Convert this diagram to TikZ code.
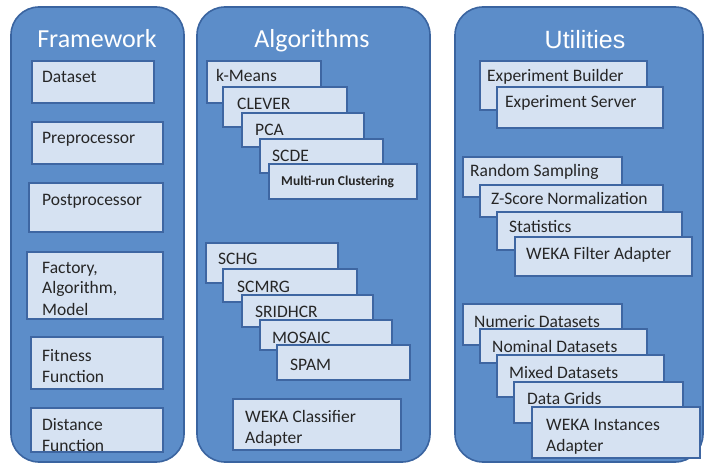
\documentclass[tikz,border=0pt]{standalone}
\usepackage{fontspec}
\setmainfont{Carlito}
\newfontfamily\arialf{Liberation Sans}
\definecolor{outerfill}{RGB}{92,141,201}
\definecolor{outerdraw}{RGB}{58,100,160}
\definecolor{innerfill}{RGB}{214,226,242}
\definecolor{innerdraw}{RGB}{62,102,162}
\definecolor{textc}{RGB}{38,38,38}
\tikzset{
  obox/.style={draw=outerdraw, fill=outerfill, line width=1.6pt, rounded corners=28pt, inner sep=0pt},
  ibox/.style={draw=innerdraw, fill=innerfill, line width=1.4pt, inner sep=0pt},
  itext/.style={anchor=base west, inner sep=0pt, align=left, text=textc, font=\fontsize{17.5}{21}\selectfont},
  ttl/.style={anchor=base, inner sep=0pt, text=white, font=\fontsize{26}{30}\selectfont},
}
% #7 is the baseline of the LAST text line
\newcommand\ibox[8]{%
  \node[ibox, minimum width={(#4-#2)*1pt}, minimum height={(#5-#3)*1pt}] (#1) at ({(#2+#4)/2},{(#3+#5)/2}) {};
  \node[itext] (#1-t) at (#6,#7) {#8};
}
\newcommand\obox[5]{%
  \node[obox, minimum width={(#4-#2)*1pt}, minimum height={(#5-#3)*1pt}] (#1) at ({(#2+#4)/2},{(#3+#5)/2}) {};
}
\begin{document}
\begin{tikzpicture}[x=1pt,y=-1pt]
\useasboundingbox[fill=white] (0,0) rectangle (707,465);
% outer columns
\obox{fw}{11}{7}{184}{462}
\obox{alg}{197}{7}{430}{462}
\obox{util}{455}{7}{703}{462}
\node[ttl] (fwT) at (97,48) {Framework};
\node[ttl] (algT) at (312,48) {Algorithms};
\node[ttl, font=\arialf\fontsize{25}{30}\selectfont] (utilT) at (585,49) {Utilities};
% Framework
\ibox{fDataset}{32}{61}{154}{103}{42}{83}{Dataset}
\ibox{fPre}{32}{122}{163}{164}{42}{144}{Preprocessor}
\ibox{fPost}{29}{183}{163}{232}{42}{206}{Postprocessor}
\ibox{fFact}{27}{252}{163}{319}{42}{315}{Factory,\\Algorithm,\\Model}
\ibox{fFit}{31}{337}{163}{389}{42}{382}{Fitness\\Function}
\ibox{fDist}{31}{408}{163}{452}{42}{451}{Distance\\Function}
% Algorithms
\ibox{aKM}{207}{61}{321}{103}{216}{82}{k-Means}
\ibox{aCL}{223}{87}{347}{127}{237}{110}{CLEVER}
\ibox{aPCA}{242}{113}{364}{147}{255}{136}{PCA}
\ibox{aSCDE}{260}{139}{383}{173}{272}{162}{SCDE}
\ibox{aMR}{269}{164}{417}{199}{281}{186}{\fontsize{13.5}{16}\selectfont\bfseries Multi-run Clustering}
\ibox{aSCHG}{206}{243}{338}{283}{218}{265}{SCHG}
\ibox{aSCMRG}{223}{269}{357}{302}{237}{292}{SCMRG}
\ibox{aSRI}{242}{295}{373}{327}{255}{317}{SRIDHCR}
\ibox{aMOS}{260}{320}{392}{350}{272}{343}{MOSAIC}
\ibox{aSPAM}{277}{345}{410}{380}{290}{370}{SPAM}
\ibox{aWEKA}{233}{399}{401}{450}{245}{443}{WEKA Classifier\\Adapter}
% Utilities
\ibox{uEB}{480}{61}{647}{110}{487}{82}{Experiment Builder}
\ibox{uES}{497}{87}{663}{128}{505}{108}{Experiment Server}
\ibox{uRS}{463}{157}{622}{197}{470}{177}{Random Sampling}
\ibox{uZS}{480}{185}{663}{217}{491}{205}{Z-Score Normalization}
\ibox{uST}{497}{212}{682}{250}{509}{233}{Statistics}
\ibox{uWF}{515}{237}{692}{276}{526}{260}{WEKA Filter Adapter}
\ibox{uND}{463}{304}{622}{345}{474}{327}{Numeric Datasets}
\ibox{uNO}{480}{329}{647}{363}{492}{352}{Nominal Datasets}
\ibox{uMD}{497}{355}{664}{397}{509}{378}{Mixed Datasets}
\ibox{uDG}{514}{382}{683}{423}{527}{404}{Data Grids}
\ibox{uWI}{532}{407}{700}{458}{546}{451}{WEKA Instances\\Adapter}
\end{tikzpicture}
\end{document}
